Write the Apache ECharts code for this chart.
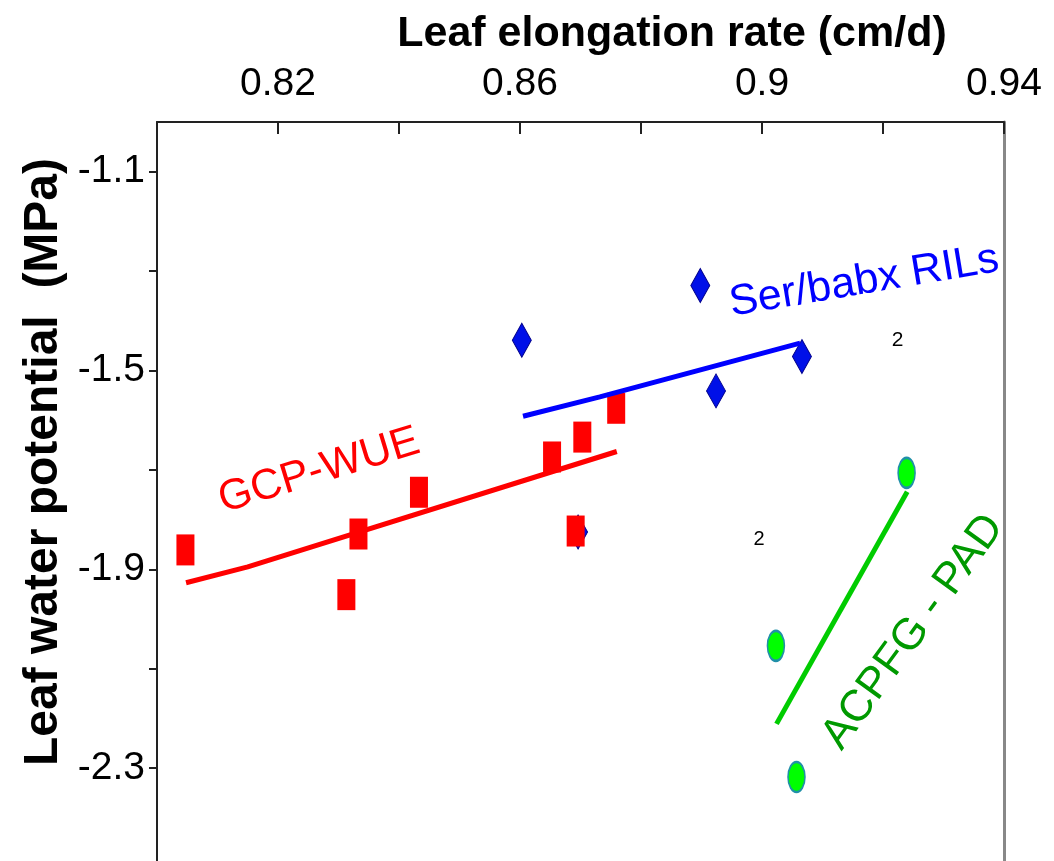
<!DOCTYPE html>
<html>
<head>
<meta charset="utf-8">
<script src="https://cdn.jsdelivr.net/npm/echarts@6/dist/echarts.min.js"></script>
<style>
  html, body { margin: 0; padding: 0; background: #fff; overflow: hidden; }
  #chart { width: 1054px; height: 861px; }
</style>
</head>
<body>
<div id="chart"></div>
<script>
// axis ticks / labels
const xTicks = [0.82, 0.84, 0.86, 0.88, 0.90, 0.92, 0.94];
const xLabels = [0.82, 0.86, 0.90, 0.94];
const yTicks = [-1.1, -1.3, -1.5, -1.7, -1.9, -2.1, -2.3, -2.5];
const yLabels = [-1.1, -1.5, -1.9, -2.3];

// GCP-WUE (red)
const gcpX = [0.8047, 0.8313, 0.8333, 0.8433, 0.8653, 0.8692, 0.8703, 0.8759];
const gcpY = [-1.861, -1.951, -1.829, -1.745, -1.674, -1.823, -1.634, -1.576];
const gcpFitX = [0.8048, 0.8150, 0.8760];
const gcpFitY = [-1.927, -1.895, -1.663];

// Ser/babx RILs (blue)
const serX = [0.8603, 0.8696, 0.8898, 0.8924, 0.9066];
const serY = [-1.439, -1.825, -1.329, -1.541, -1.472];
const serFitX = [0.8605, 0.8732, 0.9063];
const serFitY = [-1.592, -1.553, -1.445];

// ACPFG - PAD (green)
const padX = [0.9023, 0.9057, 0.9239];
const padY = [-2.054, -2.318, -1.706];
const padFitX = [0.9024, 0.9240];
const padFitY = [-2.211, -1.744];

// text notes in the plot (data coords)
const notes = [
  { text: 'Ser/babx RILs', x: 0.9169, y: -1.321, rot: 9.5, color: '#0000ff', size: 43 },
  { text: 'GCP-WUE', x: 0.8268, y: -1.702, rot: 17, color: '#ff0000', size: 43 },
  { text: 'ACPFG - PAD', x: 0.9250, y: -2.026, rot: 54, color: '#009900', size: 44 },
  { text: '2', x: 0.9224, y: -1.439, rot: 0, color: '#000', size: 21 },
  { text: '2', x: 0.8995, y: -1.841, rot: 0, color: '#000', size: 20 }
];

const FONT = '"Liberation Sans", Arial, sans-serif';
const pairs = (xs, ys) => xs.map((x, i) => [x, ys[i]]);
const fmt = v => String(Math.round(v * 100) / 100);

const chart = echarts.init(document.getElementById('chart'));

const option = {
  animation: false,
  grid: { left: 157, top: 122, width: 847, height: 745.5, outerBoundsMode: 'none' },
  xAxis: {
    type: 'value',
    position: 'top',
    min: 0.80,
    max: 0.94,
    axisLine: { show: true, lineStyle: { color: '#222', width: 2 } },
    axisTick: { show: true, inside: true, length: 12, customValues: xTicks, lineStyle: { color: '#222', width: 2 } },
    axisLabel: { customValues: xLabels, formatter: fmt, fontSize: 39, color: '#000', fontFamily: FONT, margin: 18 },
    splitLine: { show: false }
  },
  yAxis: [
    {
      type: 'value',
      min: -2.5,
      max: -1.0,
      axisLine: { show: true, lineStyle: { color: '#222', width: 2 } },
      axisTick: { show: true, inside: false, length: 8, customValues: yTicks, lineStyle: { color: '#222', width: 2 } },
      axisLabel: { customValues: yLabels, formatter: fmt, fontSize: 39, color: '#000', fontFamily: FONT, margin: 12 },
      splitLine: { show: false }
    },
    {
      type: 'value',
      position: 'right',
      min: -2.5,
      max: -1.0,
      axisLine: { show: true, lineStyle: { color: '#888', width: 3 } },
      axisTick: { show: false },
      axisLabel: { show: false },
      splitLine: { show: false }
    }
  ],
  series: [
    {
      name: 'Ser/babx RILs',
      type: 'scatter',
      silent: true,
      symbol: 'diamond',
      symbolSize: [19, 34],
      itemStyle: { color: '#0010e8', borderColor: '#00008b', borderWidth: 1, opacity: 1 },
      data: pairs(serX, serY)
    },
    {
      name: 'GCP-WUE',
      type: 'scatter',
      silent: true,
      symbol: 'rect',
      symbolSize: [18, 31],
      itemStyle: { color: '#ff0000', opacity: 1 },
      data: pairs(gcpX, gcpY)
    },
    {
      name: 'GCP-WUE fit',
      type: 'line',
      silent: true,
      symbol: 'none',
      lineStyle: { color: '#ff0000', width: 5 },
      data: pairs(gcpFitX, gcpFitY)
    },
    {
      name: 'Ser/babx fit',
      type: 'line',
      silent: true,
      symbol: 'none',
      lineStyle: { color: '#0000ff', width: 5 },
      data: pairs(serFitX, serFitY)
    },
    {
      name: 'PAD fit',
      type: 'line',
      silent: true,
      symbol: 'none',
      lineStyle: { color: '#00cc00', width: 5 },
      data: pairs(padFitX, padFitY)
    },
    {
      name: 'ACPFG - PAD',
      type: 'scatter',
      silent: true,
      symbol: 'circle',
      symbolSize: [17, 30],
      itemStyle: { color: '#00ff00', borderColor: '#2090a8', borderWidth: 2, opacity: 1 },
      data: pairs(padX, padY)
    }
  ]
};
chart.setOption(option);

// titles + notes
const graphics = [
  {
    type: 'text', x: 672, y: 34, silent: true,
    style: { text: 'Leaf elongation rate (cm/d)', fill: '#000', font: 'bold 43px ' + FONT, align: 'center', verticalAlign: 'middle' }
  },
  {
    type: 'text', x: 44, y: 462, rotation: Math.PI / 2, silent: true,
    style: { text: 'Leaf water potential  (MPa)', fill: '#000', font: 'bold 48px ' + FONT, align: 'center', verticalAlign: 'middle' }
  }
];
notes.forEach(n => {
  const p = chart.convertToPixel({ xAxisIndex: 0, yAxisIndex: 0 }, [n.x, n.y]);
  graphics.push({
    type: 'text', x: p[0], y: p[1], rotation: n.rot * Math.PI / 180, silent: true,
    style: { text: n.text, fill: n.color, font: n.size + 'px ' + FONT, align: 'center', verticalAlign: 'middle' }
  });
});
chart.setOption({ graphic: graphics });
</script>
</body>
</html>
